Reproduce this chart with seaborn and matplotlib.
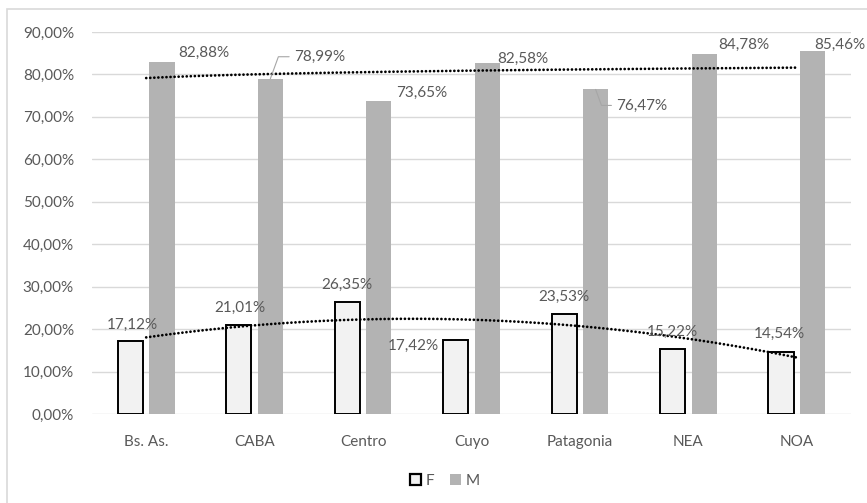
import numpy as np
import pandas as pd
import matplotlib
matplotlib.use('Agg')
import matplotlib.pyplot as plt
import seaborn as sns
from matplotlib.patches import Patch, Rectangle
from matplotlib.ticker import FuncFormatter

# datos
regiones = ['Bs. As.', 'CABA', 'Centro', 'Cuyo', 'Patagonia', 'NEA', 'NOA']
valores_f = [17.12, 21.01, 26.35, 17.42, 23.53, 15.22, 14.54]
valores_m = [82.88, 78.99, 73.65, 82.58, 76.47, 84.78, 85.46]
series = ['F', 'M']
y_ticks = [0, 10, 20, 30, 40, 50, 60, 70, 80, 90]

# desplazamiento de las etiquetas (px), como en el original
off_f = [(2, 16), (1, 17), (0, 17), (-42, -6), (0, 17), (0, 18), (-2, 18)]
off_m = [(42, 9), (49, 22), (43, 9), (36, 5), (46, -16), (40, 9), (27, 6)]
con_guia = [1, 4]   # etiquetas con linea guia

df = pd.DataFrame({
    'region': regiones * 2,
    'valor': valores_f + valores_m,
    'sexo': ['F'] * len(regiones) + ['M'] * len(regiones),
})

sns.set_style('white')
plt.rcParams['font.family'] = ['Lato', 'DejaVu Sans']
gris_txt = '#595959'

fig = plt.figure(figsize=(8.67, 5.03), dpi=100)
ax = fig.add_axes([92 / 867, 1 - 414 / 503, (851 - 92) / 867, (414 - 32) / 503])

sns.barplot(data=df, x='region', y='valor', hue='sexo', order=regiones,
            hue_order=series, palette={'F': '#f2f2f2', 'M': '#b3b3b3'},
            width=0.58, gap=0.2, legend=False, ax=ax, zorder=2)

# borde negro para F
for b in ax.containers[0]:
    b.set_edgecolor('black')
    b.set_linewidth(1.4)
for b in ax.containers[1]:
    b.set_linewidth(0)

# lineas de tendencia: F polinomica (orden 2), M logaritmica (como en Excel)
xi = np.arange(len(regiones))
xs = np.linspace(0, len(regiones) - 1, 200)
cf = np.polyfit(xi, valores_f, 2)
tend_f = np.polyval(cf, xs)
cm = np.polyfit(np.log(xi + 1), valores_m, 1)
tend_m = np.polyval(cm, np.log(xs + 1))
for t in [tend_f, tend_m]:
    sns.lineplot(x=xs, y=t, ax=ax, color='black', lw=2.0, ls=(0, (0.01, 1.45)),
                 dash_capstyle='round', zorder=4)

fmt = lambda v: f'{v:.2f}'.replace('.', ',') + '%'

for cont, vals, offs, s in [(ax.containers[0], valores_f, off_f, 'F'),
                            (ax.containers[1], valores_m, off_m, 'M')]:
    for i, (b, v, (dx, dy)) in enumerate(zip(cont, vals, offs)):
        xc = b.get_x() + b.get_width() / 2
        kw = {}
        if s == 'M' and i in con_guia:
            kw['arrowprops'] = dict(arrowstyle='-', color='#a6a6a6', lw=0.8,
                                    shrinkA=1, shrinkB=0, relpos=(0, 0.5),
                                    connectionstyle='angle,angleA=180,angleB=%d,rad=0'
                                    % (70 if dy > 0 else -70))
        ax.annotate(fmt(v), xy=(xc, v), xytext=(dx * 0.72, dy * 0.72),
                    textcoords='offset points', ha='center', va='center',
                    fontsize=11, color=gris_txt, zorder=5, **kw)

ax.set_ylim(0, 90)
ax.set_xlim(-0.5, len(regiones) - 0.5)
ax.set_yticks(y_ticks)
ax.yaxis.set_major_formatter(FuncFormatter(lambda v, p: f'{v:.2f}'.replace('.', ',') + '%'))
ax.grid(axis='y', color='#d9d9d9', lw=1, zorder=0)
ax.set_axisbelow(True)
ax.set_xlabel('')
ax.set_ylabel('')
for sp in ax.spines.values():
    sp.set_visible(False)
ax.tick_params(axis='both', length=0, labelsize=11, labelcolor=gris_txt)
ax.tick_params(axis='y', pad=13)
ax.tick_params(axis='x', pad=15)

handles = [Patch(facecolor='#f2f2f2', edgecolor='black', lw=1.6),
           Patch(facecolor='#b3b3b3', edgecolor='none')]
fig.legend(handles, series, loc='center', bbox_to_anchor=(445 / 867, 1 - 481 / 503),
           ncol=2, frameon=False, handlelength=0.75, handleheight=0.75,
           handletextpad=0.3, columnspacing=1.0, fontsize=11, labelcolor=gris_txt)

# marco del grafico
fig.patches.append(Rectangle((7 / 867, -0.1), 2, 1 - 9 / 503 + 0.1,
                             transform=fig.transFigure, fill=False,
                             edgecolor='#d9d9d9', lw=1.2))

fig.savefig('out.png', dpi=100)
